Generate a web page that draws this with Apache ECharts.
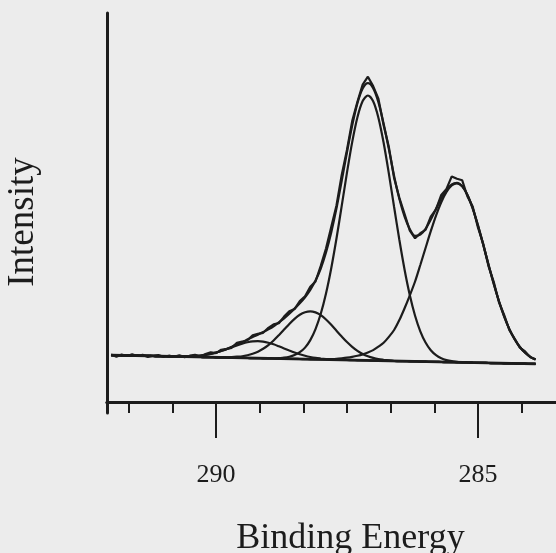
<!DOCTYPE html>
<html>
<head>
<meta charset="utf-8">
<script src="https://cdn.jsdelivr.net/npm/echarts@6/dist/echarts.min.js"></script>
<style>
  html, body { margin: 0; padding: 0; background: #ececec; }
  #chart { width: 556px; height: 553px; }
</style>
</head>
<body>
<div id="chart"></div>
<script>
// C 1s spectrum: binding energy (eV) sampled every 0.1 eV, intensity in arbitrary units
const energy = [
  292.0,291.9,291.8,291.7,291.6,291.5,291.4,291.3,291.2,291.1,
  291.0,290.9,290.8,290.7,290.6,290.5,290.4,290.3,290.2,290.1,
  290.0,289.9,289.8,289.7,289.6,289.5,289.4,289.3,289.2,289.1,
  289.0,288.9,288.8,288.7,288.6,288.5,288.4,288.3,288.2,288.1,
  288.0,287.9,287.8,287.7,287.6,287.5,287.4,287.3,287.2,287.1,
  287.0,286.9,286.8,286.7,286.6,286.5,286.4,286.3,286.2,286.1,
  286.0,285.9,285.8,285.7,285.6,285.5,285.4,285.3,285.2,285.1,
  285.0,284.9,284.8,284.7,284.6,284.5,284.4,284.3,284.2,284.1,
  284.0,283.9
];

// measured counts
const measured = [
  47.4,45.3,47.5,46.0,47.6,46.0,47.1,45.1,46.4,47.0,
  45.1,46.3,45.2,46.8,44.9,46.3,47.1,45.6,47.9,49.7,
  48.9,52.2,53.1,54.2,59.2,60.3,61.8,66.7,68.2,69.2,
  74.1,77.7,78.8,85.4,90.8,92.9,101.0,105.8,115.2,120.5,
  136.1,153.5,175.1,196.6,227.1,252.1,280.9,300.2,317.4,325.3,
  315.9,303.4,276.7,254.9,224.0,204.2,187.8,171.3,163.7,168.8,
  172.2,185.4,192.7,207.1,213.1,225.6,223.2,221.7,205.5,195.6,
  174.6,158.5,136.2,120.5,100.0,87.1,71.9,63.5,54.4,50.5,
  44.7,42.7
];

// fitted envelope
const envelope = [
  46.9,46.8,46.7,46.6,46.4,46.3,46.2,46.1,46.0,45.9,
  45.8,45.7,45.6,45.5,45.7,45.8,46.1,46.5,47.2,48.2,
  49.4,51.0,52.8,55.2,57.6,59.9,62.4,64.9,67.3,69.9,
  72.6,75.7,79.6,83.7,88.4,93.4,98.8,104.8,112.2,121.4,
  133.5,149.5,169.6,193.6,221.1,249.6,276.4,298.7,313.4,318.8,
  313.9,299.9,278.2,252.9,226.0,203.2,185.3,172.8,166.2,167.3,
  173.2,182.4,193.2,203.6,212.1,217.6,219.2,215.7,207.0,193.6,
  176.6,157.5,137.7,118.5,101.0,85.6,72.9,62.7,55.0,49.3,
  45.2,42.4
];

// fitted components, each sitting on the background line
const peakC1 = [
  46.9,46.8,46.7,46.6,46.4,46.3,46.2,46.1,46.0,45.9,
  45.8,45.7,45.6,45.5,45.4,45.2,45.1,45.0,44.9,44.8,
  44.7,44.6,44.5,44.4,44.3,44.1,44.0,43.9,43.8,43.7,
  43.6,43.5,43.9,44.3,45.2,46.9,49.8,54.4,61.9,72.9,
  88.2,108.5,133.8,163.5,196.1,229.3,259.9,284.7,300.9,306.5,
  300.7,284.3,259.2,228.4,195.0,162.2,132.3,106.8,86.3,70.7,
  59.5,51.8,46.9,43.8,41.9,40.8,40.2,39.6,39.5,39.3,
  39.2,39.1,39.0,38.9,38.8,38.7,38.6,38.5,38.4,38.3,
  38.2,38.1
];
const peakC2 = [
  46.9,46.8,46.7,46.6,46.4,46.3,46.2,46.1,46.0,45.9,
  45.8,45.7,45.6,45.5,45.4,45.2,45.1,45.0,44.9,44.8,
  44.7,44.6,44.5,44.4,44.3,44.1,44.0,43.9,43.8,43.7,
  43.6,43.5,43.4,43.3,43.2,43.1,43.0,42.8,42.7,42.6,
  42.5,42.7,42.9,43.2,43.7,44.3,45.1,46.2,47.6,49.5,
  51.9,55.3,59.2,65.1,72.0,81.9,93.8,106.7,120.5,137.0,
  154.0,170.8,186.4,199.8,210.1,216.6,218.7,215.7,207.0,193.6,
  176.6,157.5,137.7,118.5,101.0,85.6,72.9,62.7,55.0,49.3,
  45.2,42.4
];
const peakC3 = [
  46.9,46.8,46.7,46.6,46.4,46.3,46.2,46.1,46.0,45.9,
  45.8,45.7,45.6,45.5,45.4,45.2,45.1,45.0,44.9,44.8,
  44.7,44.6,44.5,44.9,45.3,45.7,46.7,48.2,50.3,53.2,
  56.9,61.5,66.8,72.4,78.1,83.2,87.3,89.8,90.7,89.6,
  86.8,82.5,77.2,71.3,65.5,60.0,55.2,51.2,48.1,45.8,
  44.1,42.9,42.2,41.6,41.0,40.9,40.8,40.7,40.6,40.4,
  40.3,40.2,40.1,40.0,39.9,39.8,39.7,39.6,39.5,39.3,
  39.2,39.1,39.0,38.9,38.8,38.7,38.6,38.5,38.4,38.3,
  38.2,38.1
];
const peakC4 = [
  46.9,46.8,46.7,46.6,46.4,46.3,46.2,46.1,46.0,45.9,
  45.8,45.7,45.6,45.5,45.7,45.8,46.1,46.5,47.2,48.2,
  49.4,51.0,52.8,54.7,56.6,58.3,59.7,60.6,60.8,60.4,
  59.3,57.7,55.7,53.6,51.5,49.5,47.7,46.2,45.0,44.1,
  43.5,43.0,42.6,42.2,42.1,42.0,41.9,41.7,41.6,41.5,
  41.4,41.3,41.2,41.1,41.0,40.9,40.8,40.7,40.6,40.4,
  40.3,40.2,40.1,40.0,39.9,39.8,39.7,39.6,39.5,39.3,
  39.2,39.1,39.0,38.9,38.8,38.7,38.6,38.5,38.4,38.3,
  38.2,38.1
];

// background line end points
const backgroundEnergy = [292.0, 283.9];
const backgroundLevel = [46.9, 38.1];

// axis ticks
const majorTicks = [290, 285];
const majorTickLabels = ['290', '285'];
const minorTicks = [291.67, 290.83, 289.17, 288.33, 287.5, 286.67, 285.83, 284.17];

const ink = '#1c1c1c';
const serif = '"Liberation Serif", "Times New Roman", serif';

function pairs(xs, ys) {
  return xs.map((x, k) => [x, ys[k]]);
}

function curve(name, values, smooth) {
  return {
    name: name,
    type: 'line',
    data: pairs(energy, values),
    showSymbol: false,
    smooth: smooth,
    lineStyle: { color: ink, width: 2.2 },
    silent: true,
    z: 3
  };
}

const chart = echarts.init(document.getElementById('chart'), null, { renderer: 'canvas' });

const xRange = { min: 283.51, max: 292.08 };

chart.setOption({
  backgroundColor: '#ececec',
  animation: false,
  grid: { left: 107, right: 0, top: 13, bottom: 140, containLabel: false, outerBoundsMode: 'none' },
  xAxis: [
    {
      type: 'value',
      min: xRange.min,
      max: xRange.max,
      inverse: true,
      position: 'bottom',
      axisLine: { show: true, onZero: true, onZeroAxisIndex: 0, lineStyle: { color: ink, width: 3 } },
      axisTick: { show: true, customValues: minorTicks, length: 11, inside: false, lineStyle: { color: ink, width: 2 } },
      axisLabel: { show: false },
      splitLine: { show: false },
      name: 'Binding Energy',
      nameLocation: 'middle',
      nameGap: 108,
      nameTextStyle: { fontFamily: serif, fontSize: 36, color: ink, padding: [0, 0, 0, 38] }
    },
    {
      type: 'value',
      min: xRange.min,
      max: xRange.max,
      inverse: true,
      position: 'bottom',
      axisLine: { show: true, onZero: true, onZeroAxisIndex: 0, lineStyle: { color: ink, width: 3 } },
      axisTick: { show: true, customValues: majorTicks, length: 36, lineStyle: { color: ink, width: 2 } },
      axisLabel: {
        show: true,
        customValues: majorTicks,
        formatter: (v) => majorTickLabels[majorTicks.indexOf(Math.round(v))] || '',
        margin: 49,
        fontFamily: serif,
        fontSize: 26,
        color: ink
      },
      splitLine: { show: false }
    }
  ],
  yAxis: {
    type: 'value',
    min: -11,
    max: 389,
    axisLine: { show: true, lineStyle: { color: ink, width: 3 } },
    axisTick: { show: false },
    axisLabel: { show: false },
    splitLine: { show: false },
    name: 'Intensity',
    nameLocation: 'middle',
    nameGap: 65,
    nameTextStyle: { fontFamily: serif, fontSize: 37, color: ink, padding: [0, 18, 0, 0] }
  },
  series: [
    {
      name: 'background',
      type: 'line',
      data: pairs(backgroundEnergy, backgroundLevel),
      showSymbol: false,
      lineStyle: { color: ink, width: 2.6 },
      silent: true,
      z: 3
    },
    curve('C1', peakC1, 0.3),
    curve('C2', peakC2, 0.3),
    curve('C3', peakC3, 0.3),
    curve('C4', peakC4, 0.3),
    curve('envelope', envelope, 0.3),
    curve('measured', measured, false)
  ]
});
</script>
</body>
</html>
